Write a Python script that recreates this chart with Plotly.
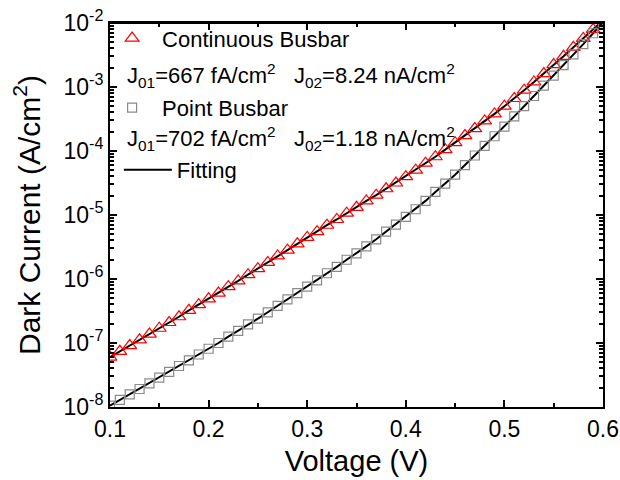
import plotly.graph_objects as go

FONT = "Liberation Sans, Arial, sans-serif"

# Voltage (V)
voltage = [0.10, 0.11, 0.12, 0.13, 0.14, 0.15, 0.16, 0.17, 0.18, 0.19,
           0.20, 0.21, 0.22, 0.23, 0.24, 0.25, 0.26, 0.27, 0.28, 0.29,
           0.30, 0.31, 0.32, 0.33, 0.34, 0.35, 0.36, 0.37, 0.38, 0.39,
           0.40, 0.41, 0.42, 0.43, 0.44, 0.45, 0.46, 0.47, 0.48, 0.49,
           0.50, 0.51, 0.52, 0.53, 0.54, 0.55, 0.56, 0.57, 0.58, 0.59,
           0.60]

# Dark current (A/cm2), continuous busbar
continuous = [6.03e-8, 7.41e-8, 9.12e-8, 1.12e-7, 1.38e-7, 1.70e-7, 2.09e-7, 2.57e-7, 3.24e-7, 3.98e-7,
              4.90e-7, 6.03e-7, 7.59e-7, 9.33e-7, 1.17e-6, 1.45e-6, 1.82e-6, 2.29e-6, 2.82e-6, 3.55e-6,
              4.47e-6, 5.50e-6, 6.92e-6, 8.51e-6, 1.07e-5, 1.32e-5, 1.66e-5, 2.04e-5, 2.57e-5, 3.16e-5,
              3.98e-5, 5.01e-5, 6.46e-5, 8.13e-5, 1.05e-4, 1.35e-4, 1.74e-4, 2.24e-4, 2.95e-4, 3.80e-4,
              5.01e-4, 6.61e-4, 8.91e-4, 1.20e-3, 1.62e-3, 2.24e-3, 3.02e-3, 4.17e-3, 5.75e-3, 7.94e-3,
              1.10e-2]

# Dark current (A/cm2), point busbar
point = [1.05e-8, 1.29e-8, 1.58e-8, 1.91e-8, 2.34e-8, 2.88e-8, 3.55e-8, 4.37e-8, 5.37e-8, 6.61e-8,
         8.13e-8, 1.00e-7, 1.26e-7, 1.55e-7, 1.95e-7, 2.40e-7, 3.02e-7, 3.80e-7, 4.79e-7, 6.03e-7,
         7.59e-7, 9.55e-7, 1.23e-6, 1.55e-6, 2.00e-6, 2.51e-6, 3.24e-6, 4.17e-6, 5.50e-6, 7.08e-6,
         9.33e-6, 1.23e-5, 1.66e-5, 2.29e-5, 3.09e-5, 4.27e-5, 6.03e-5, 8.51e-5, 1.20e-4, 1.70e-4,
         2.40e-4, 3.47e-4, 5.01e-4, 7.24e-4, 1.05e-3, 1.51e-3, 2.19e-3, 3.24e-3, 4.68e-3, 6.92e-3,
         1.02e-2]

x_range = [0.1, 0.6]
x_tickvals = [0.1, 0.2, 0.3, 0.4, 0.5, 0.6]
y_tickvals = [1e-8, 1e-7, 1e-6, 1e-5, 1e-4, 1e-3, 1e-2]
y_ticktext = ["10<sup>-8</sup>", "10<sup>-7</sup>", "10<sup>-6</sup>", "10<sup>-5</sup>",
              "10<sup>-4</sup>", "10<sup>-3</sup>", "10<sup>-2</sup>"]

fig = go.Figure()

# fitted curves
fig.add_trace(go.Scatter(
    x=voltage, y=continuous, mode="lines",
    line=dict(color="black", width=2),
    name="Fitting", legend="legend2",
))
fig.add_trace(go.Scatter(
    x=voltage, y=point, mode="lines",
    line=dict(color="black", width=2),
    showlegend=False,
))

# measured points
fig.add_trace(go.Scatter(
    x=voltage, y=continuous, mode="markers",
    marker=dict(symbol="triangle-up-open", size=12, color="#FF0000", line=dict(width=1.2)),
    name="Continuous Busbar", legendgroup="a",
))
fig.add_trace(go.Scatter(
    x=voltage, y=point, mode="markers",
    marker=dict(symbol="square-open", size=9, color="#8A8A8A", line=dict(width=1.2)),
    name="Point Busbar", legendgroup="b",
))

fig.add_annotation(
    text="J<sub>01</sub>=667 fA/cm<sup>2</sup>   J<sub>02</sub>=8.24 nA/cm<sup>2</sup>",
    xref="paper", yref="paper", x=0.03, y=0.864, xanchor="left", yanchor="middle",
    showarrow=False, font=dict(size=22, color="black", family=FONT),
)
fig.add_annotation(
    text="J<sub>01</sub>=702 fA/cm<sup>2</sup>   J<sub>02</sub>=1.18 nA/cm<sup>2</sup>",
    xref="paper", yref="paper", x=0.03, y=0.700, xanchor="left", yanchor="middle",
    showarrow=False, font=dict(size=22, color="black", family=FONT),
)

# top edge of the frame
fig.add_shape(
    type="line", xref="paper", yref="paper", x0=0, x1=1, y0=1, y1=1,
    line=dict(color="black", width=2), layer="above",
)

axis_common = dict(
    showline=True, linecolor="black", linewidth=2,
    ticks="inside", tickcolor="black", tickwidth=2, ticklen=7,
    showgrid=False, zeroline=False, automargin=False, ticklabeloverflow="allow",
    tickfont=dict(size=23, color="black", family=FONT),
)
x_minor = dict(dtick=0.05, ticks="inside", ticklen=4, tickwidth=2, tickcolor="black")

legend_common = dict(
    xanchor="left", yanchor="top",
    bgcolor="rgba(0,0,0,0)", borderwidth=0,
    font=dict(size=22, color="black", family=FONT),
)

fig.update_layout(
    width=620, height=480,
    paper_bgcolor="white", plot_bgcolor="white",
    margin=dict(l=110, r=17, t=23, b=73),
    font=dict(family=FONT, color="black"),
    showlegend=True,
    legend=dict(**legend_common, x=-0.016, y=1.015,
                traceorder="grouped", tracegroupgap=38, itemwidth=50),
    legend2=dict(**legend_common, x=0.018, y=0.672, itemwidth=48),
    xaxis=dict(
        **axis_common, mirror="ticks",
        range=x_range, tickvals=x_tickvals, minor=x_minor,
        title=dict(text="Voltage (V)", font=dict(size=29, family=FONT), standoff=10),
    ),
    # top frame edge with its own inward ticks
    xaxis2=dict(
        **axis_common, overlaying="x", side="top", anchor="y",
        range=x_range, tickvals=x_tickvals, minor=x_minor, showticklabels=False,
    ),
    yaxis=dict(
        **axis_common, mirror="ticks",
        type="log", range=[-8, -2],
        tickvals=y_tickvals, ticktext=y_ticktext,
        minor=dict(dtick="D1", ticks="inside", ticklen=4, tickwidth=1.5, tickcolor="black"),
        title=dict(text="Dark Current (A/cm<sup>2</sup>)", font=dict(size=30, family=FONT), standoff=14),
    ),
)

# drop the default 8 px page margin so the figure sits at the window's corner
fig.write_html(
    "out.html",
    config={"displayModeBar": False},
    post_script="document.body.style.margin = '0';",
)
